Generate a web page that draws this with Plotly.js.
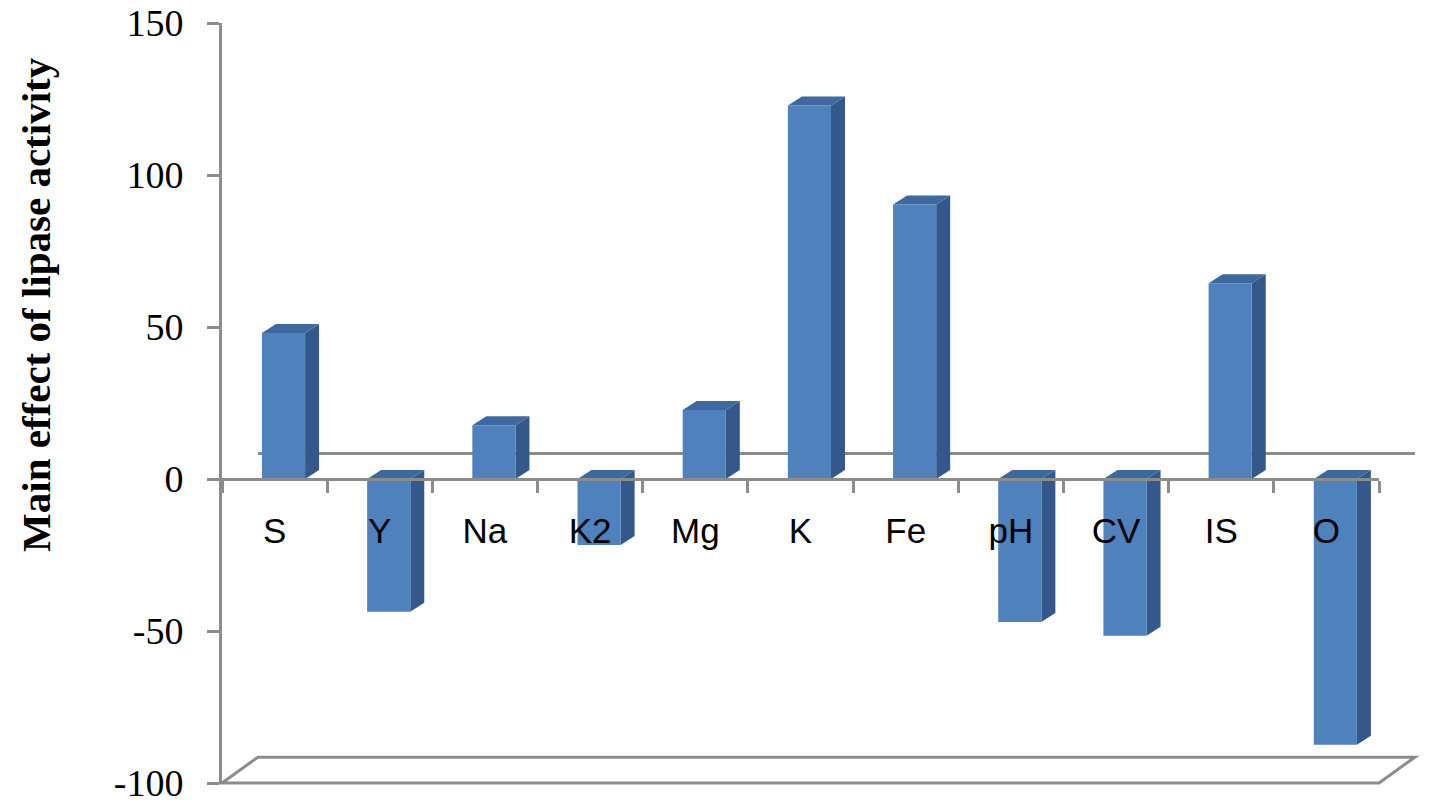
<!DOCTYPE html>
<html><head><meta charset="utf-8">
<script src="https://cdn.plot.ly/plotly-3.0.1.min.js"></script>
<style>html,body{margin:0;padding:0;background:#fff}#chart{width:1429px;height:805px}</style>
</head><body><div id="chart"></div>
<script>
const categories = ['S','Y','Na','K2','Mg','K','Fe','pH','CV','IS','O'];
const effects = [48, -43.7, 17.7, -21.7, 22.7, 122.9, 90.3, -47.0, -51.6, 64.4, -87.4];
const yTickValues = [-100, -50, 0, 50, 100, 150];
const yTickLabels = ['-100', '-50', '0', '50', '100', '150'];
const yTitle = 'Main effect of lipase activity';

const FRONT = '#4F81BD', SIDE = '#34588A', TOP = '#3E69A0', GREY = '#8C8C8C';
const barLeft = -0.12, barWidth = 0.41, depthX = 0.133, depthY = 2.96;

const shapes = [];
// back wall zero line and floor (decoration, paper coordinates)
const bx = 0.031, by = 0.034;
shapes.push({type:'line', xref:'paper', yref:'paper', x0:bx, x1:1+bx, y0:0.4336, y1:0.4336, line:{color:GREY, width:3}, layer:'below'});
shapes.push({type:'path', xref:'paper', yref:'paper', path:`M0,0 L${bx},${by} L${1+bx},${by} L1,0 Z`, line:{color:GREY, width:3}, layer:'below'});

// 3D faces computed from the data via the axis scales
categories.forEach((c, i) => {
  const v = effects[i];
  const lo = Math.min(0, v), hi = Math.max(0, v);
  const xl = i + barLeft, xr = xl + barWidth;
  shapes.push({type:'path', xref:'x2', yref:'y', layer:'below', line:{width:0}, fillcolor:SIDE,
    path:`M${xr},${lo} L${xr+depthX},${lo+depthY} L${xr+depthX},${hi+depthY} L${xr},${hi} Z`});
  shapes.push({type:'path', xref:'x2', yref:'y', layer:'below', line:{width:0}, fillcolor:TOP,
    path:`M${xl},${hi} L${xr},${hi} L${xr+depthX},${hi+depthY} L${xl+depthX},${hi+depthY} Z`});
});

const data = [
  {type:'bar', x:categories, y:effects, width:barWidth, offset:barLeft,
   marker:{color:FRONT, line:{width:0}}, hoverinfo:'x+y', showlegend:false},
  {type:'scatter', x:[], y:[], xaxis:'x2', yaxis:'y', hoverinfo:'skip', showlegend:false}
];

const layout = {
  width:1429, height:805,
  margin:{l:222, r:50, t:23, b:22},
  paper_bgcolor:'#fff', plot_bgcolor:'rgba(0,0,0,0)',
  showlegend:false,
  xaxis:{type:'category', range:[-0.5,10.5], anchor:'free', position:0.4,
    showline:true, linecolor:GREY, linewidth:3,
    ticks:'outside', tickson:'boundaries', ticklen:12, tickwidth:3, tickcolor:GREY,
    tickfont:{family:'Liberation Sans, Arial, sans-serif', size:35, color:'#000'},
    ticklabelstandoff:20, showgrid:false, zeroline:false, fixedrange:true},
  xaxis2:{type:'linear', overlaying:'x', anchor:'y', range:[-0.5,10.5], visible:false, fixedrange:true},
  yaxis:{range:[-100,150], tickvals:yTickValues, ticktext:yTickLabels,
    showline:true, linecolor:GREY, linewidth:3,
    ticks:'outside', ticklen:12, tickwidth:3, tickcolor:GREY,
    tickfont:{family:'Liberation Serif, Times New Roman, serif', size:38, color:'#000'},
    ticklabelstandoff:16, ticklabeloverflow:'allow', showgrid:false, zeroline:false, fixedrange:true},
  shapes:shapes,
  annotations:[{text:'<b>'+yTitle+'</b>', xref:'paper', yref:'paper', x:-0.161, y:0.63,
    xanchor:'center', yanchor:'middle', textangle:-90, showarrow:false,
    font:{family:'Liberation Serif, Times New Roman, serif', size:41, color:'#000'}}]
};

Plotly.newPlot('chart', data, layout, {displayModeBar:false, staticPlot:true});
</script></body></html>
